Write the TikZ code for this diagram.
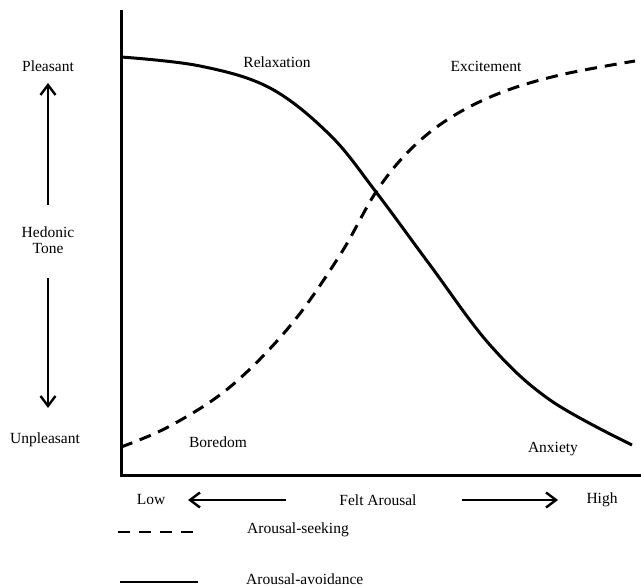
\documentclass[tikz,border=0pt]{standalone}
\usepackage{fontspec}
\setmainfont{Liberation Serif}
\usetikzlibrary{arrows.meta}
\begin{document}
\begin{tikzpicture}[x=1pt,y=-1pt,
  lab/.style={font=\fontsize{15.5}{16}\selectfont, inner sep=0pt},
  axis/.style={line width=3pt},
  curve/.style={line width=3pt},
  dashcurve/.style={line width=3pt, dash pattern=on 12pt off 8pt},
  harrow/.style={line width=2.6pt, -{Straight Barb[length=10pt,width=15pt,line width=2.4pt]}}
]
\useasboundingbox (0,0) rectangle (641,588);
% axes
\coordinate (ytop) at (121,10);
\coordinate (org) at (121,476);
\coordinate (xend) at (641,476);
\draw[axis] (ytop) -- (org) -- (xend);
% solid curve (arousal-avoidance)
\draw[curve] plot[smooth, tension=0.6] coordinates {(121,57) (200,66) (270,88) (330,135) (376,192) (430,265) (490,345) (550,400) (632,445)};
% dashed curve (arousal-seeking)
\draw[dashcurve] plot[smooth, tension=0.6] coordinates {(121,447) (170,426) (230,387) (290,326) (340,255) (376,192) (410,150) (450,118) (500,93) (560,75) (635,61)};
% y labels
\node[lab] (pleasant) at (48,66) {Pleasant};
\node[lab] (hedonic) at (48,232) {Hedonic};
\node[lab] (tone) at (48,249) {Tone};
\node[lab] (unpleasant) at (45,440) {Unpleasant};
\coordinate (upa) at (48,205);
\coordinate (upb) at (48,83);
\coordinate (dna) at (48,278);
\coordinate (dnb) at (48,408);
\draw[harrow] (upa) -- (upb);
\draw[harrow] (dna) -- (dnb);
% region labels
\node[lab] (relax) at (277,62) {Relaxation};
\node[lab] (excite) at (486,66) {Excitement};
\node[lab] (bored) at (218,442) {Boredom};
\node[lab] (anx) at (553,449) {Anxiety};
% x labels
\node[lab] (low) at (151,500) {Low};
\node[lab] (felt) at (378,500) {Felt Arousal};
\node[lab] (high) at (602,500) {High};
\coordinate (la) at (286,500);
\coordinate (lb) at (188,500);
\coordinate (ra) at (462,500);
\coordinate (rb) at (558,500);
\draw[harrow] (la) -- (lb);
\draw[harrow] (ra) -- (rb);
% legend
\coordinate (d1) at (118,532);
\coordinate (d2) at (198,532);
\coordinate (s1) at (120,582);
\coordinate (s2) at (198,582);
\draw[line width=2.8pt, dash pattern=on 12pt off 9pt] (d1) -- (d2);
\draw[line width=2.8pt] (s1) -- (s2);
\node[lab, anchor=west] (seek) at (247,530) {Arousal-seeking};
\node[lab, anchor=west] (avoid) at (246,579) {Arousal-avoidance};
\end{tikzpicture}
\end{document}
